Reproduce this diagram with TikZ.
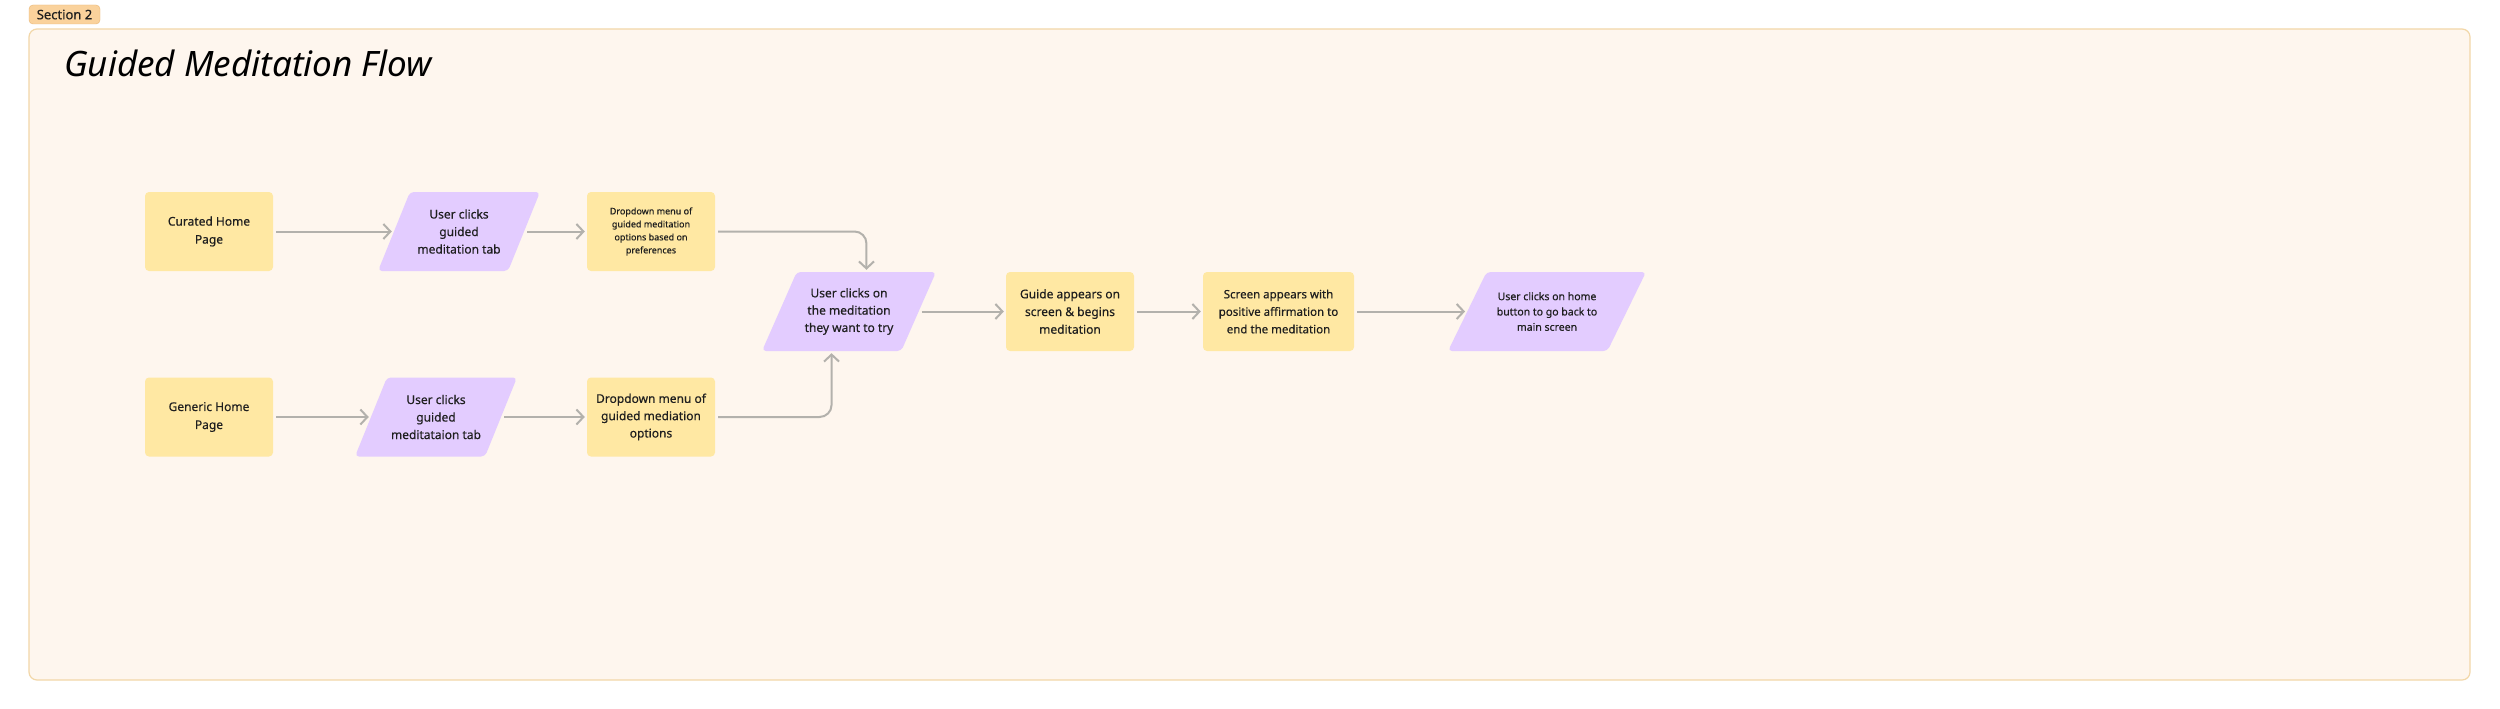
\documentclass[tikz,border=0pt]{standalone}
\usepackage{fontspec}
\setsansfont{Noto Sans}[FakeBold=0.4]
\newfontfamily\titlefont{Noto Sans}
\usepackage{xcolor}
\usepackage{tikz}
\usetikzlibrary{shapes.geometric,arrows.meta,positioning}

\definecolor{stickyyellow}{HTML}{FFE8A3}
\definecolor{stickypurple}{HTML}{E3CCFF}
\definecolor{sectionfill}{HTML}{FEF6EE}
\definecolor{sectionline}{HTML}{F2D7A8}
\definecolor{tabfill}{HTML}{FAD29C}
\definecolor{tabline}{HTML}{E8B676}
\definecolor{flowgray}{HTML}{B3B1AC}
\definecolor{inktext}{HTML}{1F1F1F}

\begin{document}
\begin{tikzpicture}[
    x=1pt, y=-1pt,
    screenbox/.style={rectangle, fill=stickyyellow, rounded corners=4pt, minimum width=128pt, minimum height=79pt, inner sep=0pt, align=center, text=inktext, font=\sffamily\fontsize{12}{18}\selectfont},
    action/.style={trapezium, trapezium left angle=67, trapezium right angle=113, trapezium stretches body, fill=stickypurple, rounded corners=4pt, minimum height=79pt, minimum width=162pt, inner xsep=0pt, inner ysep=15.5pt, align=center, text=inktext, font=\sffamily\fontsize{12}{17.5}\selectfont},
    flow/.style={draw=flowgray, line width=2pt, -{Straight Barb[length=7pt,width=15pt]}, shorten >=2pt, shorten <=3pt, rounded corners=12pt}
]
\useasboundingbox[fill=white] (0,0) rectangle (2500,709);

% Section frame and tab
\node[draw=sectionline, fill=sectionfill, line width=1.2pt, rounded corners=8pt, minimum width=2441pt, minimum height=651pt, inner sep=0pt] (section) at (1249.5,354.5) {};
\node[draw=tabline, fill=tabfill, rounded corners=4pt, minimum width=71pt, minimum height=19pt, inner sep=0pt, text=inktext, font=\sffamily\fontsize{13}{15}\selectfont] (tab) at (64.5,14.5) {Section 2};

% Title
\node[anchor=base west, inner sep=0pt, text=black, font=\titlefont\itshape\fontsize{35}{35}\selectfont] (title) at (64,77) {Guided Meditation Flow};

% Curated row
\node[screenbox] (curated) at (209,231.5) {Curated Home\\Page};
\node[action] (tabcur) at (459,231.5) {User clicks\\guided\\meditation tab};
\node[screenbox, font=\sffamily\fontsize{9}{13}\selectfont] (listcur) at (651,231.5) {Dropdown menu of\\guided meditation\\options based on\\preferences};

% Generic row
\node[screenbox] (generic) at (209,417) {Generic Home\\Page};
\node[action] (tabgen) at (436,417) {User clicks\\guided\\meditataion tab};
\node[screenbox, font=\sffamily\fontsize{12}{17.3}\selectfont] (listgen) at (651,417) {Dropdown menu of\\guided mediation\\options};

% Shared steps
\node[action, trapezium left angle=66, trapezium right angle=114, minimum width=174pt, inner ysep=15.7pt, font=\sffamily\fontsize{12}{17.3}\selectfont] (pick) at (849,311.5) {User clicks on\\the meditation\\they want to try};
\node[screenbox, font=\sffamily\fontsize{12}{17.7}\selectfont] (guide) at (1070,311.5) {Guide appears on\\screen \& begins\\meditation};
\node[screenbox, minimum width=151pt, font=\sffamily\fontsize{11.5}{17.5}\selectfont] (affirm) at (1278.5,311.5) {Screen appears with\\positive affirmation to\\end the meditation};
\node[action, trapezium left angle=63, trapezium right angle=117, minimum width=198pt, inner ysep=18.5pt, font=\sffamily\fontsize{10.5}{15.3}\selectfont] (gohome) at (1547,311.5) {User clicks on home\\button to go back to\\main screen};

% Connections - curated row
\draw[flow] (curated.east) -- (tabcur.left side);
\draw[flow] (tabcur.right side) -- (listcur.west);
\draw[flow] (listcur.east) -| (pick.top side);

% Connections - generic row
\draw[flow] (generic.east) -- (tabgen.left side);
\draw[flow] (tabgen.right side) -- (listgen.west);
\draw[flow] (listgen.east) -| (pick.bottom side);

% Connections - to the end
\draw[flow] (pick.right side) -- (guide.west);
\draw[flow] (guide.east) -- (affirm.west);
\draw[flow] (affirm.east) -- (gohome.left side);

\end{tikzpicture}
\end{document}
